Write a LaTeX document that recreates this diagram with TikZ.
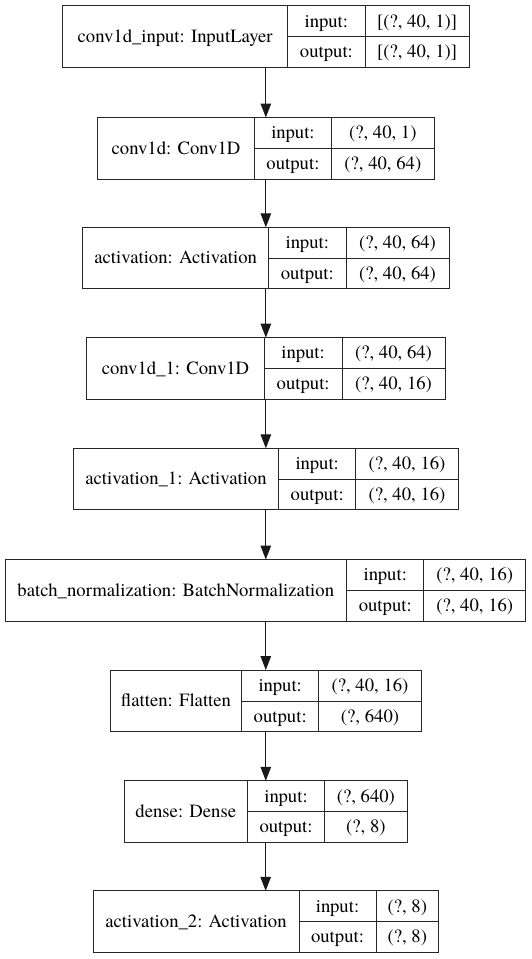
\documentclass[tikz,border=0pt]{standalone}
\usepackage{fontspec}
\newfontfamily\layerfont{texgyretermes-regular.otf}
\usetikzlibrary{arrows.meta}
\tikzset{
  layerframe/.style={draw=black!85, line width=1pt, rectangle, inner sep=0pt, outer sep=0pt},
  divider/.style={draw=black!85, line width=1pt},
  lbl/.style={anchor=base, inner sep=0pt, font=\layerfont\fontsize{18.7}{22}\selectfont},
  conn/.style={draw=black!90, line width=1.2pt, -{Triangle[length=14pt,width=10.5pt]}},
}
% #1 id, #2 top, #3 left, #4 div1, #5 div2, #6 right, #7 name, #8 input, #9 output
\newcommand\kerasLayer[9]{%
  \pgfmathsetmacro\lwid{#6-#3}%
  \node[layerframe, minimum width=\lwid pt, minimum height=61.5pt] (#1) at ({(#3+#6)/2},{#2+30.75}) {};
  \draw[divider] (#4,#2) -- (#4,{#2+61.5});
  \draw[divider] (#5,#2) -- (#5,{#2+61.5});
  \draw[divider] (#4,{#2+31}) -- (#6,{#2+31});
  \node[lbl] (#1-name) at ({(#3+#4)/2},{#2+30.75+5.8}) {#7};
  \node[lbl] (#1-inl) at ({(#4+#5)/2},{#2+15.5+5.8}) {input:};
  \node[lbl] (#1-outl) at ({(#4+#5)/2},{#2+46.25+5.8}) {output:};
  \node[lbl] (#1-inv) at ({(#5+#6)/2},{#2+15.5+5.8}) {#8};
  \node[lbl] (#1-outv) at ({(#5+#6)/2},{#2+46.25+5.8}) {#9};
}
\begin{document}
\begin{tikzpicture}[x=1pt, y=-1pt]
  \useasboundingbox (0,0) rectangle (532,959);
  \kerasLayer{b1}{5.8}{62.7}{287.6}{365.2}{469}{conv1d\_input: InputLayer}{[(?, 40, 1)]}{[(?, 40, 1)]}
  \kerasLayer{b2}{117.5}{97.7}{254.3}{331.6}{434}{conv1d: Conv1D}{(?, 40, 1)}{(?, 40, 64)}
  \kerasLayer{b3}{227.3}{82.7}{268.7}{346}{449}{activation: Activation}{(?, 40, 64)}{(?, 40, 64)}
  \kerasLayer{b4}{337.6}{86.7}{264.3}{342}{445}{conv1d\_1: Conv1D}{(?, 40, 64)}{(?, 40, 16)}
  \kerasLayer{b5}{448.3}{73.3}{278.7}{355.7}{458.3}{activation\_1: Activation}{(?, 40, 16)}{(?, 40, 16)}
  \kerasLayer{b6}{559.5}{5}{346.6}{423.9}{525.6}{batch\_normalization: BatchNormalization}{(?, 40, 16)}{(?, 40, 16)}
  \kerasLayer{b7}{670}{110.3}{241.7}{318.7}{421.3}{flatten: Flatten}{(?, 40, 16)}{(?, 640)}
  \kerasLayer{b8}{780.8}{124.3}{247.3}{324.7}{407}{dense: Dense}{(?, 640)}{(?, 8)}
  \kerasLayer{b9}{890.8}{93}{299}{376}{438.5}{activation\_2: Activation}{(?, 8)}{(?, 8)}
  \draw[conn] (b1.south) -- (b1.south |- b2.north);
  \draw[conn] (b2.south) -- (b2.south |- b3.north);
  \draw[conn] (b3.south) -- (b3.south |- b4.north);
  \draw[conn] (b4.south) -- (b4.south |- b5.north);
  \draw[conn] (b5.south) -- (b5.south |- b6.north);
  \draw[conn] (b6.south -| b5.south) -- (b5.south |- b7.north);
  \draw[conn] (b7.south) -- (b7.south |- b8.north);
  \draw[conn] (b8.south) -- (b8.south |- b9.north);
\end{tikzpicture}
\end{document}
